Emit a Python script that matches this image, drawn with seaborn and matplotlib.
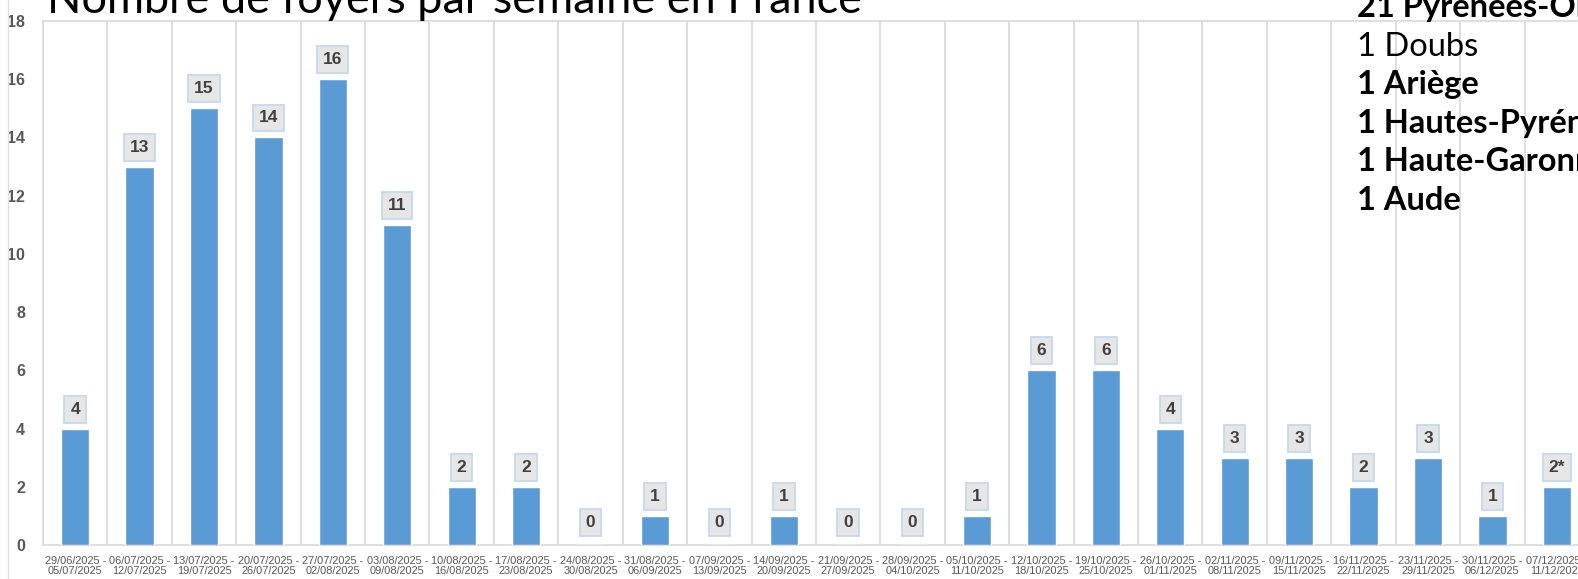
import matplotlib
matplotlib.use("Agg")
import matplotlib.pyplot as plt
from matplotlib import font_manager
from matplotlib.lines import Line2D
import seaborn as sns
import pandas as pd

week_start = ["29/06/2025", "06/07/2025", "13/07/2025", "20/07/2025", "27/07/2025",
              "03/08/2025", "10/08/2025", "17/08/2025", "24/08/2025", "31/08/2025",
              "07/09/2025", "14/09/2025", "21/09/2025", "28/09/2025", "05/10/2025",
              "12/10/2025", "19/10/2025", "26/10/2025", "02/11/2025", "09/11/2025",
              "16/11/2025", "23/11/2025", "30/11/2025", "07/12/2025"]
week_end = ["05/07/2025", "12/07/2025", "19/07/2025", "26/07/2025", "02/08/2025",
            "09/08/2025", "16/08/2025", "23/08/2025", "30/08/2025", "06/09/2025",
            "13/09/2025", "20/09/2025", "27/09/2025", "04/10/2025", "11/10/2025",
            "18/10/2025", "25/10/2025", "01/11/2025", "08/11/2025", "15/11/2025",
            "22/11/2025", "29/11/2025", "06/12/2025", "11/12/2025"]
foyers = [4, 13, 15, 14, 16, 11, 2, 2, 0, 1, 0, 1, 0, 0, 1, 6, 6, 4, 3, 3, 2, 3, 1, 2]
bar_labels = ["4", "13", "15", "14", "16", "11", "2", "2", "0", "1", "0", "1", "0", "0",
              "1", "6", "6", "4", "3", "3", "2", "3", "1", "2*"]

dept_counts = [21, 1, 1, 1, 1, 1]
dept_names = ["Pyrénées-Orientales", "Doubs", "Ariège", "Hautes-Pyrénées",
              "Haute-Garonne", "Aude"]
dept_bold = [True, False, True, True, True, True]

title = "Nombre de foyers par semaine en France"

sns.set_theme(style="white")
installed = {f.name for f in font_manager.fontManager.ttflist}
narrow = "Liberation Sans Narrow" if "Liberation Sans Narrow" in installed else "Liberation Sans"
plt.rcParams['font.family'] = ["Lato", "DejaVu Sans"]

W, H = 1578, 579
fig = plt.figure(figsize=(W / 100, H / 100), dpi=100)
ax = fig.add_axes([43 / W, 34 / H, 1546 / W, 524 / H])

df = pd.DataFrame({"semaine": [a + " -\n" + b for a, b in zip(week_start, week_end)],
                   "foyers": foyers})
sns.barplot(data=df, x="semaine", y="foyers", color="#5B9BD5", width=0.44,
            saturation=1, ax=ax, zorder=3)

ax.set_ylim(0, 18)
ax.set_xlim(-0.5, len(foyers) - 0.5)
ax.set_yticks(range(0, 19, 2))
ax.set_xlabel("")
ax.set_ylabel("")
ax.tick_params(axis="y", length=0, pad=13, labelsize=11.5, labelcolor="#595959")
ax.tick_params(axis="x", length=0, pad=8, labelsize=7.9, labelcolor="#595959")
for lab in ax.get_yticklabels():
    lab.set_fontfamily(narrow)
    lab.set_fontweight("bold")
for lab in ax.get_xticklabels():
    lab.set_fontfamily(narrow)
    lab.set_linespacing(1.0)

ax.set_xticks([i + 0.5 for i in range(-1, len(foyers))], minor=True)
ax.grid(which="minor", axis="x", color="#D9D9D9", linewidth=1.2, zorder=0)
ax.grid(which="major", visible=False)
for side in ["top", "bottom", "left"]:
    ax.spines[side].set_color("#D9D9D9")
    ax.spines[side].set_linewidth(1.2)
ax.spines["right"].set_visible(False)

for i, (v, txt) in enumerate(zip(foyers, bar_labels)):
    ax.annotate(txt, xy=(i, v), xytext=(0, 14 if v > 0 else 16), textcoords="offset points",
                ha="center", va="center", fontsize=12.5, fontweight="bold",
                color="#404040", family=narrow, zorder=4,
                bbox=dict(boxstyle="square,pad=0.34", fc="#E7E6E6", ec="#C5D9EE", lw=1.3))

# thin frame line at the far left of the chart area
fig.add_artist(Line2D([8 / W, 8 / W], [0, 1], color="#E0E0E0", lw=1.0))

fig.text(47 / W, 1 - 13 / H, title, fontsize=32.5, color="black", va="baseline", ha="left")

for k, (n, name, b) in enumerate(zip(dept_counts, dept_names, dept_bold)):
    fig.text(1357 / W, 1 - (17 + 38.5 * k) / H, f"{n} {name}", fontsize=23.5,
             fontweight="bold" if b else "normal", color="black",
             va="baseline", ha="left")

fig.savefig("out.png", dpi=100)
